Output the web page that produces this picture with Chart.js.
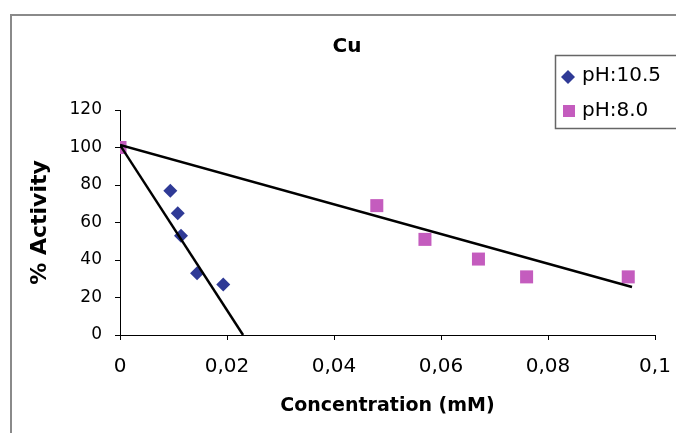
<!DOCTYPE html>
<html>
<head>
<meta charset="utf-8">
<script src="https://cdn.jsdelivr.net/npm/chart.js@4/dist/chart.umd.min.js"></script>
<style>
  html, body { margin: 0; padding: 0; background: #fff; }
  #wrap { width: 676px; height: 433px; }
</style>
</head>
<body>
<div id="wrap"><canvas id="chart" width="676" height="433"></canvas></div>
<script>
// Values
const seriesNames = ["pH:10.5", "pH:8.0"];
const conc105 = [0, 0.0094, 0.0108, 0.0114, 0.0144, 0.0193];
const act105 = [100, 77, 65, 53, 33, 27];
const conc80 = [0, 0.048, 0.057, 0.067, 0.076, 0.095];
const act80 = [100, 69, 51, 40.5, 31, 31];

// Trend lines (end points)
const fit105X = [0, 0.023];
const fit105Y = [101.3, 0];
const fit80X = [0, 0.0957];
const fit80Y = [101.3, 25.6];

const xTicks = [0, 0.02, 0.04, 0.06, 0.08, 0.1];
const xTickLabels = ["0", "0,02", "0,04", "0,06", "0,08", "0,1"];
const yTicks = [0, 20, 40, 60, 80, 100, 120];

const blue = "#2F3A96";
const pink = "#C45CBE";
const FONT = "'DejaVu Sans', sans-serif";

const toPoints = (xs, ys) => xs.map((x, i) => ({ x: x, y: ys[i] }));

Chart.defaults.font.family = FONT;
Chart.defaults.color = "#000";

// Frame, title and boxed legend
const extras = {
  id: "extras",
  beforeDraw(chart) {
    const ctx = chart.ctx;
    ctx.save();
    ctx.strokeStyle = "#8a8a8a";
    ctx.lineWidth = 2;
    ctx.strokeRect(11, 15, 800, 600);
    ctx.restore();
  },
  afterDraw(chart) {
    const ctx = chart.ctx;
    ctx.save();
    ctx.fillStyle = "#000";
    ctx.font = "bold 20px " + FONT;
    ctx.textAlign = "center";
    ctx.textBaseline = "middle";
    ctx.fillText("Cu", 347, 47);

    // legend box
    ctx.strokeStyle = "#666";
    ctx.lineWidth = 1.5;
    ctx.strokeRect(555.5, 55.5, 160, 73);

    // diamond
    ctx.fillStyle = blue;
    ctx.beginPath();
    ctx.moveTo(568, 70); ctx.lineTo(575, 77); ctx.lineTo(568, 84); ctx.lineTo(561, 77);
    ctx.closePath();
    ctx.fill();
    // square
    ctx.fillStyle = pink;
    ctx.fillRect(563, 105, 12, 12);

    ctx.fillStyle = "#000";
    ctx.font = "20px " + FONT;
    ctx.textAlign = "left";
    ctx.fillText(seriesNames[0], 582, 76);
    ctx.fillText(seriesNames[1], 582, 111);
    ctx.restore();
  }
};

new Chart(document.getElementById("chart"), {
  type: "scatter",
  data: {
    datasets: [
      {
        label: "fit " + seriesNames[0],
        data: toPoints(fit105X, fit105Y),
        showLine: true,
        borderColor: "#000",
        borderWidth: 2.5,
        pointRadius: 0,
        order: 0
      },
      {
        label: "fit " + seriesNames[1],
        data: toPoints(fit80X, fit80Y),
        showLine: true,
        borderColor: "#000",
        borderWidth: 2.5,
        pointRadius: 0,
        order: 0
      },
      {
        label: seriesNames[1],
        data: toPoints(conc80, act80),
        pointStyle: "rect",
        pointRadius: 9.2,
        backgroundColor: pink,
        borderColor: pink,
        borderWidth: 0,
        order: 1
      },
      {
        label: seriesNames[0],
        data: toPoints(conc105, act105),
        pointStyle: "rectRot",
        pointRadius: 7,
        backgroundColor: blue,
        borderColor: blue,
        borderWidth: 0,
        order: 2
      }
    ]
  },
  options: {
    responsive: false,
    animation: false,
    devicePixelRatio: 1,
    layout: { padding: { top: 110, right: 21, left: 0, bottom: 0 } },
    plugins: {
      legend: { display: false },
      title: { display: false },
      tooltip: { enabled: false }
    },
    scales: {
      x: {
        type: "linear",
        min: 0,
        max: 0.1,
        afterBuildTicks: s => { s.ticks = xTicks.map(v => ({ value: v })); },
        afterFit: s => { s.height = 98; },
        ticks: {
          callback: (v, i) => xTickLabels[i],
          // tall line box pushes labels down without adding side padding
          font: { size: 20, lineHeight: 2.7 },
          color: "#000",
          padding: 0,
          maxRotation: 0,
          autoSkip: false
        },
        grid: { drawOnChartArea: false, drawTicks: true, tickLength: 5, color: "#000" },
        border: { color: "#000", width: 1 },
        title: {
          display: true,
          text: "Concentration (mM)",
          font: { size: 19, weight: "bold" },
          color: "#000",
          padding: { top: 0, bottom: 15.6 }
        }
      },
      y: {
        type: "linear",
        min: 0,
        max: 120,
        afterBuildTicks: s => { s.ticks = yTicks.map(v => ({ value: v })); },
        afterFit: s => { s.width = 120; },
        ticks: {
          font: { size: 17 },
          color: "#000",
          padding: 13
        },
        grid: { drawOnChartArea: false, drawTicks: true, tickLength: 5, color: "#000" },
        border: { color: "#000", width: 1 },
        title: {
          display: true,
          text: "% Activity",
          font: { size: 22, weight: "bold" },
          color: "#000",
          padding: { top: 26.8, bottom: 0 }
        }
      }
    }
  },
  plugins: [extras]
});
</script>
</body>
</html>
